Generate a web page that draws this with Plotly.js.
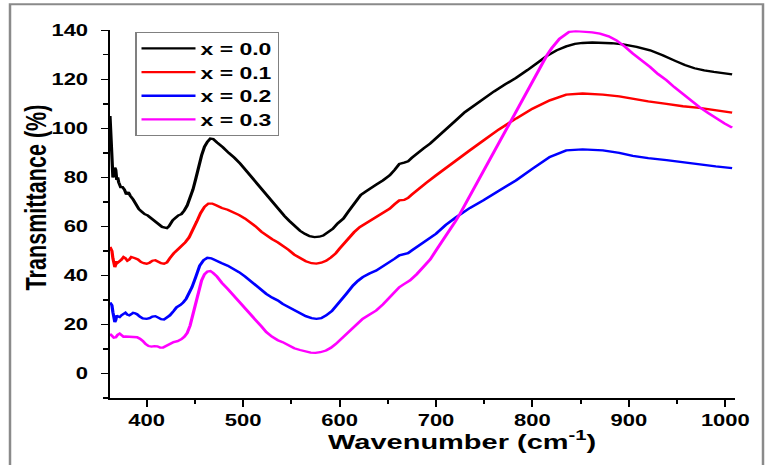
<!DOCTYPE html>
<html>
<head>
<meta charset="utf-8">
<script src="https://cdn.plot.ly/plotly-3.0.1.min.js"></script>
<style>
html, body { margin: 0; padding: 0; background: #fff; overflow: hidden; }
#wrap { width: 765px; height: 465px; overflow: hidden; }
#plot { width: 765px; height: 646px; transform: scaleY(0.7198); transform-origin: 0 0; }
</style>
</head>
<body>
<div id="wrap"><div id="plot"></div></div>
<script>
// Wavenumber (cm^-1) and transmittance (%)
const wn0 = [362,363,364,365,366,367,368,369,370,371,373,375,377,379,381,383,386,389,392,395,398,401,404,407,410,413,416,419,421,423,425,427,430,433,436,439,442,445,448,451,454,457,460,463,466,469,473,479,485,491,497,503,509,514,520,526,531,537,543,548,554,559,564,569,574,579,583,588,593,598,604,609,614,618,622,627,632,638,645,652,657,662,667,671,675,680,687,694,700,707,714,721,730,740,749,760,772,783,795,806,815,825,835,844,852,862,870,882,894,908,922,935,948,958,968,978,988,998,1007];
const t0 = [105,96,84,80,81,84,83,79,80,78,76,76,75,73,74,72.5,71,69,67,66,65,64.5,63.5,62.5,61.5,60.5,59.8,59.5,59.3,60,61.5,62.5,63.5,64.5,65,66.5,68.5,71.5,75,79.5,84.5,89,92.5,94.5,95.8,95.6,94.2,92.3,90,88,85.6,82.8,80,77.5,74.6,71.8,69.4,66.8,64.2,62.2,60,58.2,57,56,55.6,55.8,56.3,57.5,59,61.2,63.2,66,68.6,71,72.8,74.2,75.6,77,78.8,80.8,83,85.5,86,86.5,88,89.7,91.8,93.8,96,98.5,101,103.4,106.6,109.5,111.8,115,118,120.6,123.8,126.8,129.5,131.8,133.4,134.4,134.8,135,134.9,134.7,134.2,133.2,131.8,129.8,127.5,125.8,124.5,123.6,123,122.5,122];

const wn1 = [362,363,364,365,366,367,368,369,370,372,374,376,378,380,382,384,386,388,391,394,397,400,403,406,409,412,415,418,421,424,428,432,436,440,444,448,452,456,460,464,468,472,478,484,490,496,502,507,513,519,524,530,536,541,547,553,559,565,571,576,581,586,591,596,600,605,610,615,621,627,633,638,645,652,657,662,667,671,675,680,690,700,710,721,735,749,765,783,800,818,835,852,873,890,904,920,939,956,973,990,1007];
const t1 = [51.6,51,50,47,44,43.4,44.5,45.8,45.2,45.8,46.5,47.5,47,46,46.5,47.5,47.3,47,46.5,45.5,45,44.8,45.2,46,46.2,45.5,45,44.8,45.3,47,49,50.5,52,53.5,55.5,58.5,62,65.5,68,69.3,69.3,68.6,67.5,66.8,65.8,64.6,63.2,61.8,60,57.8,56.3,54.8,53.5,52.2,50.5,48.5,47.2,45.8,45,44.8,45.2,46,47.3,49,50.9,53.2,55.6,57.6,59.7,61.2,62.6,63.8,65.4,67.2,69,70.6,70.8,71.6,73,74.7,77.8,80.8,83.8,86.9,91,95,99.5,104,108,111.4,113.7,114.2,113.7,113,112,111,110,109,108.3,107.3,106.4];

const wn2 = [362,363,364,365,366,367,368,369,370,372,374,376,378,380,382,384,386,388,390,393,396,400,403,406,409,412,415,418,421,424,428,431,435,438,441,444,447,451,455,459,463,467,472,478,484,490,496,502,507,513,519,524,530,536,541,547,553,559,565,571,576,581,586,592,596,600,607,614,619,624,631,638,645,652,657,662,667,671,675,680,690,700,710,721,735,749,765,783,800,818,835,852,873,890,904,920,939,956,973,990,1007];
const t2 = [29,28.5,27.8,25,22,21,21.8,23.7,23.3,23,23.8,24.4,24.8,24,23.7,24.2,24.8,24.6,24.2,23.2,22.5,22.3,22.6,23.2,23.4,22.8,22.2,22,22.8,23.7,25.5,27,28,29,30.5,32.8,35.2,39.5,44,46.2,47.2,47,46,45,44,42.7,41.3,39.6,38,36,34.2,32.5,31,29.8,28.4,27.2,25.8,24.6,23.4,22.6,22.3,22.6,23.7,25.5,27.3,29.1,32.5,35.9,37.8,39.3,40.8,42,43.7,45.4,46.8,48.2,48.6,49.1,50.2,51.6,54.3,57,60.6,63.8,67.5,70.6,74.5,78.8,83.5,88.3,91,91.4,91,90,88.8,87.8,87,86.1,85.2,84.5,83.8];

const wn3 = [362,364,366,368,370,372,374,376,378,382,386,390,393,396,399,402,405,408,411,414,417,420,424,428,432,436,439,442,445,448,451,454,457,460,463,466,469,473,478,484,490,496,502,507,513,519,524,530,536,541,547,553,559,565,570,575,580,586,591,596,600,607,614,619,624,631,638,645,652,657,662,667,673,680,687,694,700,707,714,720,725,735,749,762,775,789,800,810,815,820,828,838,845,852,862,870,879,887,896,904,913,922,930,939,947,956,964,973,982,991,999,1007];
const t3 = [16.2,15.5,14.6,14.8,15.8,16.3,15.6,15,15.1,15,15.1,14.8,14.2,13.3,12,11.2,11,11.2,11.1,10.6,10.6,11.2,12.1,12.8,13.2,14,15,16.5,19.5,24,29,34,38,40.5,41.6,41.8,41,39.5,37,34.5,31.8,29.3,26.6,24.4,21.8,19.2,16.9,15,13.6,12.8,11.5,10.3,9.6,8.9,8.5,8.4,8.7,9.4,10.5,12,13.5,16,18.9,20.7,22.3,24,25.7,28.2,31.1,33,35.2,36.5,38,40.5,43.4,46.5,50.2,54.2,58.4,62,65.2,72.4,82.5,91.8,101.2,111.3,119.5,126.5,129.8,132.7,136.5,139.3,139.6,139.4,139.1,138.6,137.5,135.9,133.3,130.5,127.8,125,122.2,119.6,116.8,114,111.3,108.7,106.3,104,102,100.3];

const names = ['x = 0.0', 'x = 0.1', 'x = 0.2', 'x = 0.3'];
const colors = ['#000000', '#ff0000', '#0000ff', '#ff00ff'];
const xs = [wn0, wn1, wn2, wn3];
const ys = [t0, t1, t2, t3];

const FONT = 'Liberation Sans, Arial, sans-serif';

const traces = names.map((n, i) => ({
  x: xs[i], y: ys[i], name: n, type: 'scatter', mode: 'lines',
  line: { color: colors[i], width: 3.2 }
}));

const layout = {
  width: 765, height: 646,
  margin: { l: 110, r: 30, t: 42, b: 93 },
  paper_bgcolor: '#fff', plot_bgcolor: '#fff',
  font: { family: FONT, color: '#000' },
  showlegend: true,
  legend: {
    x: 0.04, xanchor: 'left', y: 0.9955, yanchor: 'top',
    bgcolor: '#fff', bordercolor: '#808080', borderwidth: 1.5,
    font: { family: FONT, size: 23, weight: 'bold', color: '#000' },
    itemwidth: 54, tracegroupgap: 0
  },
  xaxis: {
    range: [362, 1010], showgrid: false, zeroline: false,
    showline: true, linecolor: '#000', linewidth: 2.5, mirror: false,
    ticks: 'outside', ticklen: 10, tickwidth: 2, tickcolor: '#000',
    tick0: 0, dtick: 100,
    minor: { ticks: 'outside', dtick: 50, ticklen: 6, tickwidth: 2, tickcolor: '#000' },
    tickfont: { family: FONT, size: 22, weight: 'bold', color: '#000' },
    ticklabelstandoff: 0
  },
  yaxis: {
    range: [-10, 140], showgrid: false, zeroline: false,
    showline: true, linecolor: '#000', linewidth: 2.5, mirror: false,
    ticks: 'outside', ticklen: 7, tickwidth: 2, tickcolor: '#000',
    tick0: 0, dtick: 20,
    minor: { ticks: 'outside', dtick: 10, ticklen: 5, tickwidth: 2, tickcolor: '#000' },
    tickfont: { family: FONT, size: 22, weight: 'bold', color: '#000' },
    ticklabelstandoff: 8
  },
  annotations: [
    { text: 'Transmittance (%)', xref: 'paper', yref: 'paper', x: -0.1184, y: 0.545,
      xanchor: 'center', yanchor: 'middle', textangle: -90, showarrow: false,
      font: { family: FONT, size: 30, weight: 'bold', color: '#000' } },
    { text: 'Wavenumber (cm<sup>-1</sup>)', xref: 'paper', yref: 'paper', x: 0.5624, y: -0.113,
      xanchor: 'center', yanchor: 'middle', showarrow: false,
      font: { family: FONT, size: 29, weight: 'bold', color: '#000' } }
  ],
  shapes: [
    { type: 'rect', xref: 'paper', yref: 'paper', x0: -0.16, x1: 1.0448, y0: -0.4, y1: 1.0706,
      line: { color: '#8a8a8a', width: 2.5 }, fillcolor: 'rgba(0,0,0,0)', layer: 'below' }
  ]
};

Plotly.newPlot('plot', traces, layout, { displayModeBar: false, staticPlot: true });
</script>
</body>
</html>
